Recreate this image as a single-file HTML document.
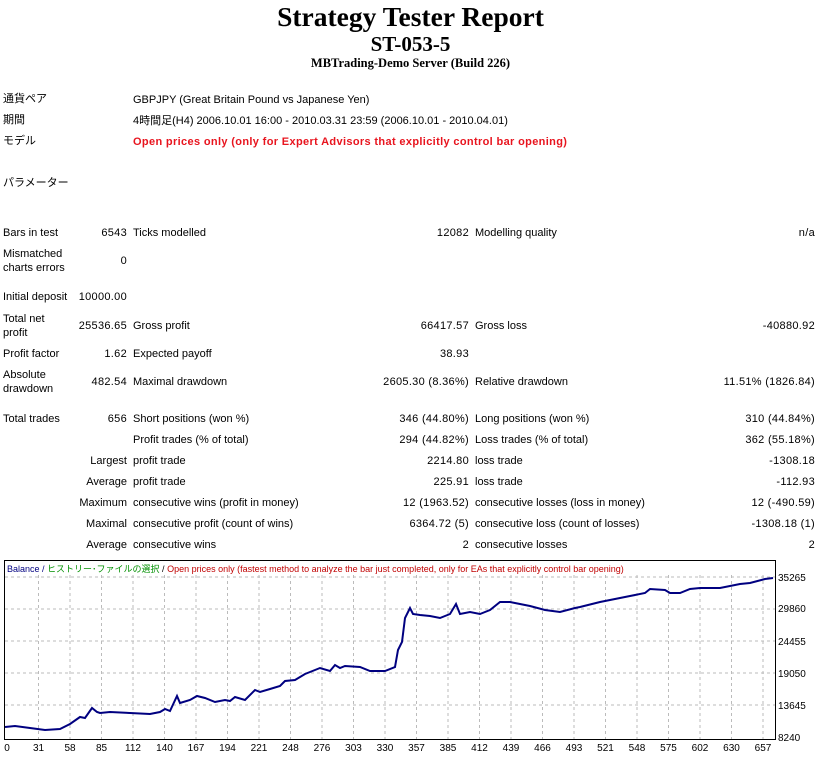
<!DOCTYPE html>
<html><head><meta charset="utf-8"><style>
body{margin:0;width:821px;height:757px;background:#fff;position:relative;overflow:hidden;font-family:"Liberation Sans","Noto Sans CJK JP",sans-serif;font-size:11px;color:#000}
div.t{position:absolute;line-height:14px;white-space:nowrap}
.r{text-align:right;letter-spacing:0.3px}
.h{position:absolute;left:0;width:821px;text-align:center;font-family:"Liberation Serif",serif;font-weight:bold;white-space:nowrap}
</style></head><body>
<div class="h" style="top:1px;font-size:27.5px;line-height:32px">Strategy Tester Report</div>
<div class="h" style="top:32px;font-size:21px;line-height:24px">ST-053-5</div>
<div class="h" style="top:55px;font-size:12.5px;line-height:16px">MBTrading-Demo Server (Build 226)</div>

<div class="t" style="left:3px;top:92px">通貨ペア</div>
<div class="t" style="left:133px;top:93px">GBPJPY (Great Britain Pound vs Japanese Yen)</div>
<div class="t" style="left:3px;top:113px">期間</div>
<div class="t" style="left:133px;top:114px">4時間足(H4) 2006.10.01 16:00 - 2010.03.31 23:59 (2006.10.01 - 2010.04.01)</div>
<div class="t" style="left:3px;top:134px">モデル</div>
<div class="t" style="left:133px;top:135px;color:#e8141e;font-weight:bold;letter-spacing:0.35px">Open prices only (only for Expert Advisors that explicitly control bar opening)</div>
<div class="t" style="left:3px;top:176px">パラメーター</div>

<div class="t" style="left:3px;top:226px">Bars in test</div>
<div class="t r" style="right:694px;top:226px">6543</div>
<div class="t" style="left:133px;top:226px">Ticks modelled</div>
<div class="t r" style="right:352px;top:226px">12082</div>
<div class="t" style="left:475px;top:226px">Modelling quality</div>
<div class="t r" style="right:6px;top:226px">n/a</div>

<div class="t" style="left:3px;top:247px">Mismatched<br>charts errors</div>
<div class="t r" style="right:694px;top:254px">0</div>

<div class="t" style="left:3px;top:290px">Initial deposit</div>
<div class="t r" style="right:694px;top:290px">10000.00</div>

<div class="t" style="left:3px;top:312px">Total net<br>profit</div>
<div class="t r" style="right:694px;top:319px">25536.65</div>
<div class="t" style="left:133px;top:319px">Gross profit</div>
<div class="t r" style="right:352px;top:319px">66417.57</div>
<div class="t" style="left:475px;top:319px">Gross loss</div>
<div class="t r" style="right:6px;top:319px">-40880.92</div>

<div class="t" style="left:3px;top:347px">Profit factor</div>
<div class="t r" style="right:694px;top:347px">1.62</div>
<div class="t" style="left:133px;top:347px">Expected payoff</div>
<div class="t r" style="right:352px;top:347px">38.93</div>

<div class="t" style="left:3px;top:368px">Absolute<br>drawdown</div>
<div class="t r" style="right:694px;top:375px">482.54</div>
<div class="t" style="left:133px;top:375px">Maximal drawdown</div>
<div class="t r" style="right:352px;top:375px">2605.30 (8.36%)</div>
<div class="t" style="left:475px;top:375px">Relative drawdown</div>
<div class="t r" style="right:6px;top:375px">11.51% (1826.84)</div>

<div class="t" style="left:3px;top:412px">Total trades</div>
<div class="t r" style="right:694px;top:412px">656</div>
<div class="t" style="left:133px;top:412px">Short positions (won %)</div>
<div class="t r" style="right:352px;top:412px">346 (44.80%)</div>
<div class="t" style="left:475px;top:412px">Long positions (won %)</div>
<div class="t r" style="right:6px;top:412px">310 (44.84%)</div>

<div class="t" style="left:133px;top:433px">Profit trades (% of total)</div>
<div class="t r" style="right:352px;top:433px">294 (44.82%)</div>
<div class="t" style="left:475px;top:433px">Loss trades (% of total)</div>
<div class="t r" style="right:6px;top:433px">362 (55.18%)</div>

<div class="t r" style="right:694px;top:454px;letter-spacing:0">Largest</div>
<div class="t" style="left:133px;top:454px">profit trade</div>
<div class="t r" style="right:352px;top:454px">2214.80</div>
<div class="t" style="left:475px;top:454px">loss trade</div>
<div class="t r" style="right:6px;top:454px">-1308.18</div>

<div class="t r" style="right:694px;top:475px;letter-spacing:0">Average</div>
<div class="t" style="left:133px;top:475px">profit trade</div>
<div class="t r" style="right:352px;top:475px">225.91</div>
<div class="t" style="left:475px;top:475px">loss trade</div>
<div class="t r" style="right:6px;top:475px">-112.93</div>

<div class="t r" style="right:694px;top:496px;letter-spacing:0">Maximum</div>
<div class="t" style="left:133px;top:496px">consecutive wins (profit in money)</div>
<div class="t r" style="right:352px;top:496px">12 (1963.52)</div>
<div class="t" style="left:475px;top:496px">consecutive losses (loss in money)</div>
<div class="t r" style="right:6px;top:496px">12 (-490.59)</div>

<div class="t r" style="right:694px;top:517px;letter-spacing:0">Maximal</div>
<div class="t" style="left:133px;top:517px">consecutive profit (count of wins)</div>
<div class="t r" style="right:352px;top:517px">6364.72 (5)</div>
<div class="t" style="left:475px;top:517px">consecutive loss (count of losses)</div>
<div class="t r" style="right:6px;top:517px">-1308.18 (1)</div>

<div class="t r" style="right:694px;top:538px;letter-spacing:0">Average</div>
<div class="t" style="left:133px;top:538px">consecutive wins</div>
<div class="t r" style="right:352px;top:538px">2</div>
<div class="t" style="left:475px;top:538px">consecutive losses</div>
<div class="t r" style="right:6px;top:538px">2</div>

<svg style="position:absolute;left:0;top:0" width="821" height="757" font-family="Liberation Sans, Noto Sans CJK JP, sans-serif" font-size="10">
<rect x="4.5" y="560.5" width="771" height="179" fill="#fff" stroke="#000"/>
<g stroke="#bbb" stroke-dasharray="3,3">
<line x1="5" x2="775" y1="577" y2="577"/><line x1="5" x2="775" y1="609" y2="609"/><line x1="5" x2="775" y1="641" y2="641"/><line x1="5" x2="775" y1="673" y2="673"/><line x1="5" x2="775" y1="705" y2="705"/>
<line y1="575" y2="739" x1="38.5" x2="38.5"/><line y1="575" y2="739" x1="70" x2="70"/><line y1="575" y2="739" x1="101.5" x2="101.5"/><line y1="575" y2="739" x1="133" x2="133"/><line y1="575" y2="739" x1="164.5" x2="164.5"/><line y1="575" y2="739" x1="196" x2="196"/><line y1="575" y2="739" x1="227.5" x2="227.5"/><line y1="575" y2="739" x1="259" x2="259"/><line y1="575" y2="739" x1="290.5" x2="290.5"/><line y1="575" y2="739" x1="322" x2="322"/><line y1="575" y2="739" x1="353.5" x2="353.5"/><line y1="575" y2="739" x1="385" x2="385"/><line y1="575" y2="739" x1="416.5" x2="416.5"/><line y1="575" y2="739" x1="448" x2="448"/><line y1="575" y2="739" x1="479.5" x2="479.5"/><line y1="575" y2="739" x1="511" x2="511"/><line y1="575" y2="739" x1="542.5" x2="542.5"/><line y1="575" y2="739" x1="574" x2="574"/><line y1="575" y2="739" x1="605.5" x2="605.5"/><line y1="575" y2="739" x1="637" x2="637"/><line y1="575" y2="739" x1="668.5" x2="668.5"/><line y1="575" y2="739" x1="700" x2="700"/><line y1="575" y2="739" x1="731.5" x2="731.5"/><line y1="575" y2="739" x1="763" x2="763"/>
</g>
<text x="7" y="572" font-size="9"><tspan fill="#000080">Balance / </tspan><tspan fill="#009000">ヒストリー･ファイルの選択</tspan><tspan fill="#000"> / </tspan><tspan fill="#c00000">Open prices only (fastest method to analyze the bar just completed, only for EAs that explicitly control bar opening)</tspan></text>
<polyline fill="none" stroke="#000080" stroke-width="2" points="5,727 15,726 30,728 45,730 60,729 70,724 80,717 85,718 92,708 97,712 100,713 110,712 130,713 150,714 160,712 165,709 170,711 177,696 180,703 190,700 197,696 205,698 215,702 225,700 230,701 235,697 245,700 255,690 260,692 270,689 280,686 285,681 295,680 305,674 310,672 320,668 330,671 335,665 340,668 345,666 360,667 370,671 385,671 395,667 398,650 402,642 405,618 410,608 413,614 420,615 430,616 440,618 450,614 456,604 460,614 470,612 480,614 485,612 490,610 500,602 510,602 530,606 545,610 560,612 575,608 580,607 600,602 610,600 630,596 645,593 650,589 665,590 670,593 680,593 690,589 700,588 720,588 740,584 750,583 765,579 773,578"/>
<g fill="#000" text-anchor="start">
<text x="778" y="581">35265</text><text x="778" y="612">29860</text><text x="778" y="645">24455</text><text x="778" y="677">19050</text><text x="778" y="709">13645</text><text x="778" y="741">8240</text>
</g>
<g fill="#000" text-anchor="middle">
<text x="7" y="751">0</text><text x="38.5" y="751">31</text><text x="70" y="751">58</text><text x="101.5" y="751">85</text><text x="133" y="751">112</text><text x="164.5" y="751">140</text><text x="196" y="751">167</text><text x="227.5" y="751">194</text><text x="259" y="751">221</text><text x="290.5" y="751">248</text><text x="322" y="751">276</text><text x="353.5" y="751">303</text><text x="385" y="751">330</text><text x="416.5" y="751">357</text><text x="448" y="751">385</text><text x="479.5" y="751">412</text><text x="511" y="751">439</text><text x="542.5" y="751">466</text><text x="574" y="751">493</text><text x="605.5" y="751">521</text><text x="637" y="751">548</text><text x="668.5" y="751">575</text><text x="700" y="751">602</text><text x="731.5" y="751">630</text><text x="763" y="751">657</text>
</g>
</svg>
</body></html>
